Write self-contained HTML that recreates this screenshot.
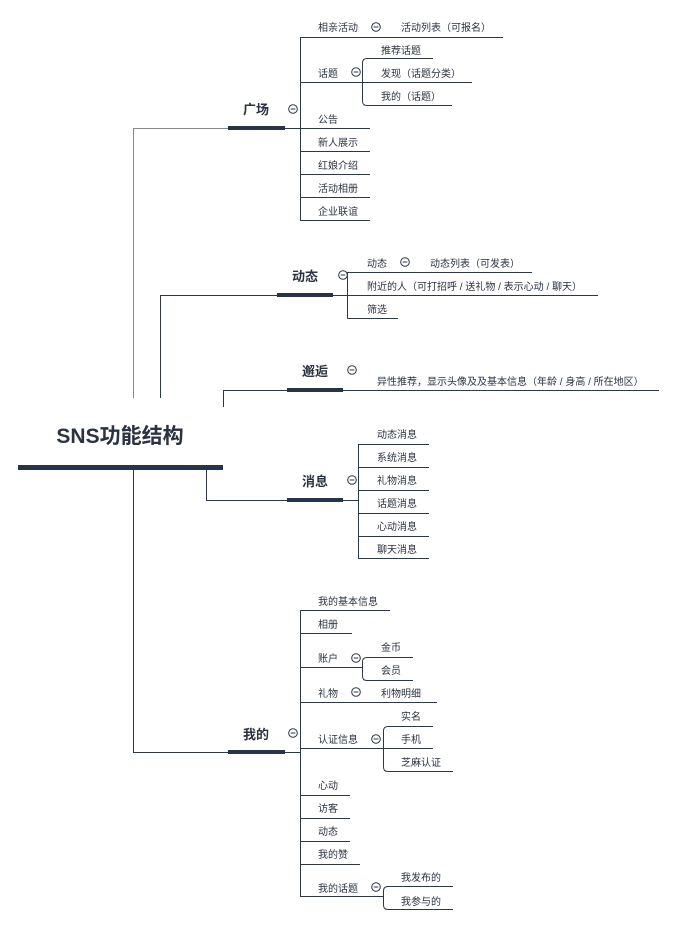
<!DOCTYPE html>
<html><head><meta charset="utf-8"><style>
html,body{margin:0;padding:0;background:#fff;}
svg{display:block;}
text{font-family:"Liberation Sans","Noto Sans CJK SC",sans-serif;fill:#2b3340;}
.t{font-size:10px;}
.b{font-size:13px;font-weight:bold;}
.l{stroke:#2d3745;stroke-width:1;fill:none;}
.g{stroke:#888;stroke-width:1;fill:none;}
.bar{fill:#263445;}
.c{fill:#fff;stroke:#2d3745;stroke-width:1;}
</style></head><body>
<svg width="675" height="925" viewBox="0 0 675 925" xmlns="http://www.w3.org/2000/svg">
<defs>
<g id="cm"><circle r="4.3" class="c"/><line x1="-2.3" x2="2.3" y1="0" y2="0" stroke="#2d3745" stroke-width="1"/></g>
</defs>
<!-- root -->
<text x="120" y="443" font-size="21" font-weight="bold" text-anchor="middle">SNS功能结构</text>
<rect class="bar" x="18" y="465" width="205" height="5"/>
<!-- root connectors -->
<path class="g" d="M133.5 398 V128.5 H228"/>
<path class="l" d="M160.5 398 V295.5 H277"/>
<path class="l" d="M223.5 407 V390.5 H287"/>
<path class="l" d="M206.5 470 V500.5 H287"/>
<path class="l" d="M133.5 470 V752.5 H228"/>

<!-- 广场 -->
<rect class="bar" x="228" y="126" width="57" height="4"/>
<text class="b" x="256" y="114" text-anchor="middle">广场</text>
<use href="#cm" x="293" y="109"/>
<path class="l" d="M285 128.5 H300.5 M300.5 37 V220"/>
<path class="l" d="M300 37.5 H503"/>
<text class="t" x="318" y="31">相亲活动</text><use href="#cm" x="376" y="27"/><text class="t" x="401" y="31">活动列表（可报名）</text>
<path class="l" d="M300 82.5 H362.5"/>
<text class="t" x="318" y="77">话题</text><use href="#cm" x="356" y="72"/>
<path class="l" d="M362.5 63 Q362.5 58.5 367 58.5 H433 M362.5 63 V101 Q362.5 105.5 367 105.5 H452 M362.5 82.5 H472"/>
<text class="t" x="381" y="54">推荐话题</text>
<text class="t" x="381" y="77">发现（话题分类）</text>
<text class="t" x="381" y="100">我的（话题）</text>
<path class="l" d="M300 128.5 H370 M300 151.5 H370 M300 174.5 H370 M300 197.5 H370 M300 220.5 H370"/>
<text class="t" x="318" y="123">公告</text>
<text class="t" x="318" y="146">新人展示</text>
<text class="t" x="318" y="169">红娘介绍</text>
<text class="t" x="318" y="192">活动相册</text>
<text class="t" x="318" y="215">企业联谊</text>

<!-- 动态 -->
<rect class="bar" x="277" y="293" width="56" height="4"/>
<text class="b" x="305" y="281" text-anchor="middle">动态</text>
<use href="#cm" x="343" y="275"/>
<path class="l" d="M333 295.5 H347.5 M347.5 272 V318.5"/>
<path class="l" d="M347.5 272.5 H532 M347.5 295.5 H598 M347.5 318.5 H398"/>
<text class="t" x="367" y="267">动态</text><use href="#cm" x="405" y="262"/><text class="t" x="430" y="267">动态列表（可发表）</text>
<text class="t" x="367" y="290">附近的人（可打招呼 / 送礼物 / 表示心动 / 聊天）</text>
<text class="t" x="367" y="313">筛选</text>

<!-- 邂逅 -->
<rect class="bar" x="287" y="388" width="56" height="4"/>
<text class="b" x="315" y="376" text-anchor="middle">邂逅</text>
<use href="#cm" x="352" y="370"/>
<path class="l" d="M343 390.5 H659"/>
<text class="t" x="377" y="385">异性推荐，显示头像及及基本信息（年龄 / 身高 / 所在地区）</text>

<!-- 消息 -->
<rect class="bar" x="287" y="498" width="56" height="4"/>
<text class="b" x="315" y="486" text-anchor="middle">消息</text>
<use href="#cm" x="352" y="480"/>
<path class="l" d="M343 500.5 H358.5 M358.5 444 V558"/>
<path class="l" d="M358 444.5 H429 M358 467.5 H429 M358 490.5 H429 M358 513.5 H429 M358 536.5 H429 M358 558.5 H429"/>
<text class="t" x="377" y="438">动态消息</text>
<text class="t" x="377" y="461">系统消息</text>
<text class="t" x="377" y="484">礼物消息</text>
<text class="t" x="377" y="507">话题消息</text>
<text class="t" x="377" y="530">心动消息</text>
<text class="t" x="377" y="553">聊天消息</text>

<!-- 我的 -->
<rect class="bar" x="228" y="750" width="57" height="4"/>
<text class="b" x="256" y="739" text-anchor="middle">我的</text>
<use href="#cm" x="293" y="733"/>
<path class="l" d="M285 752.5 H300.5 M300.5 610 V897"/>
<path class="l" d="M300 610.5 H390 M300 633.5 H352"/>
<text class="t" x="318" y="605">我的基本信息</text>
<text class="t" x="318" y="628">相册</text>
<path class="l" d="M300 667.5 H362.5"/>
<text class="t" x="318" y="662">账户</text><use href="#cm" x="356" y="658"/>
<path class="l" d="M362.5 662 Q362.5 657.5 367 657.5 H413 M362.5 662 V676 Q362.5 680.5 367 680.5 H413"/>
<text class="t" x="381" y="651">金币</text>
<text class="t" x="381" y="674">会员</text>
<path class="l" d="M300 702.5 H437"/>
<text class="t" x="318" y="697">礼物</text><use href="#cm" x="356" y="692"/><text class="t" x="381" y="697">利物明细</text>
<path class="l" d="M300 748.5 H383.5"/>
<text class="t" x="318" y="743">认证信息</text><use href="#cm" x="376" y="739"/>
<path class="l" d="M383.5 731 Q383.5 726.5 388 726.5 H433 M383.5 731 V767 Q383.5 771.5 388 771.5 H453 M383.5 748.5 H433"/>
<text class="t" x="401" y="720">实名</text>
<text class="t" x="401" y="743">手机</text>
<text class="t" x="401" y="766">芝麻认证</text>
<path class="l" d="M300 795.5 H350 M300 818.5 H350 M300 841.5 H350 M300 864.5 H360"/>
<text class="t" x="318" y="789">心动</text>
<text class="t" x="318" y="812">访客</text>
<text class="t" x="318" y="835">动态</text>
<text class="t" x="318" y="858">我的赞</text>
<path class="l" d="M300 896.5 H383.5"/>
<text class="t" x="318" y="892">我的话题</text><use href="#cm" x="376" y="887"/>
<path class="l" d="M383.5 891 Q383.5 886.5 388 886.5 H453 M383.5 891 V905 Q383.5 909.5 388 909.5 H453"/>
<text class="t" x="401" y="881">我发布的</text>
<text class="t" x="401" y="905">我参与的</text>
</svg>
</body></html>
